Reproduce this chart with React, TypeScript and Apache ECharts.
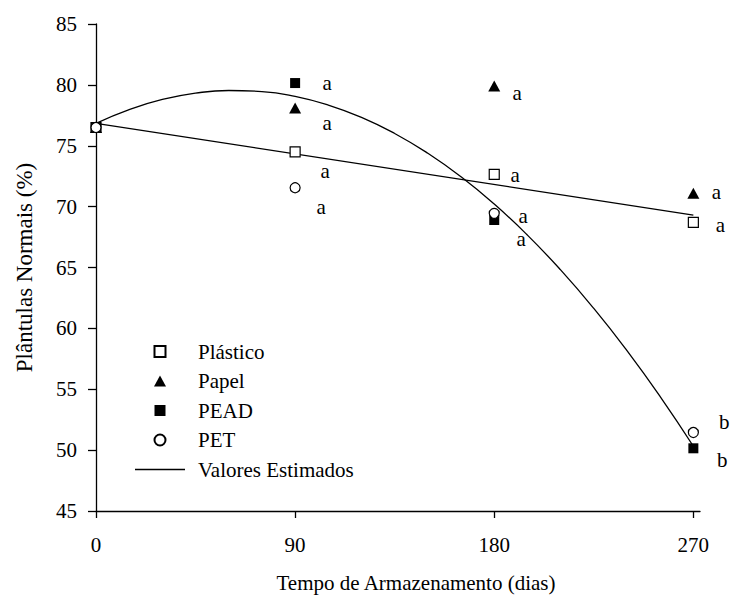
import React, { useEffect, useRef } from "react";
import * as echarts from "echarts";

const days = [0, 90, 180, 270];
const plastico = [76.5, 74.5, 72.65, 68.7];
const papel = [76.5, 78.1, 79.9, 71.1];
const pead = [76.5, 80.15, 68.9, 50.15];
const pet = [76.5, 71.55, 69.45, 51.45];

const plasticoLetters = ["", "a", "a", "a"];
const papelLetters = ["", "a", "a", "a"];
const peadLetters = ["", "a", "a", "b"];
const petLetters = ["", "a", "a", "b"];

// estimated linear fit
const linearDays = [0, 270];
const linearValues = [76.84, 69.31];

// estimated quadratic curve
const curveDays = [0, 15, 30, 45, 60, 75, 90, 105, 120, 135, 150, 165, 180, 195, 210, 225, 240, 255, 270];
const curveValues = [76.84, 77.97, 78.8, 79.32, 79.54, 79.45, 79.05, 78.34, 77.33, 76.01, 74.38, 72.45, 70.21, 67.66, 64.8, 61.64, 58.17, 54.4, 50.32];

const xTicks = [0, 90, 180, 270];

// label offsets (px) relative to each marker
const plasticoOffsets = [[0, 0], [30, 19], [21, 1], [27, 3]];
const papelOffsets = [[0, 0], [32, 15], [23, 7], [23, -1]];
const peadOffsets = [[0, 0], [32, 0], [27, 19], [29, 12]];
const petOffsets = [[0, 0], [26, 19], [29, 3], [31, -10]];

const FONT = "'Liberation Serif', 'Times New Roman', Times, serif";

const ICON_SQUARE = "path://M0,0L10,0L10,10L0,10Z";
const ICON_TRIANGLE = "path://M6,0L12,11L0,11Z";
const ICON_CIRCLE = "path://M0,5A5,5 0 1 1 10,5A5,5 0 1 1 0,5Z";
const ICON_LINE = "path://M0,0L50,0L50,1.3L0,1.3Z";

function pts(values: number[], letters: string[], offsets: number[][]) {
  return days.map((d, i) => ({
    value: [d, values[i]],
    label: {
      show: letters[i] !== "",
      formatter: letters[i],
      position: "inside",
      offset: offsets[i],
      color: "#000",
      fontFamily: FONT,
      fontSize: 21,
    },
  }));
}

export default function App() {
  const ref = useRef<HTMLDivElement>(null);
  useEffect(() => {
    if (!ref.current) return;
    document.body.style.margin = "0";
    const chart = echarts.init(ref.current, null, { renderer: "svg" });
    const lineStyle = { color: "#000", width: 1.3 };
    chart.setOption({
      animation: false,
      backgroundColor: "#fff",
      textStyle: { fontFamily: FONT },
      grid: { left: 96, top: 24, right: 48, bottom: 90, containLabel: false, outerBoundsMode: "none" },
      legend: {
        orient: "vertical",
        left: 135,
        top: 341,
        padding: 0,
        itemWidth: 50,
        itemHeight: 11,
        itemGap: 8.5,
        symbolKeepAspect: true,
        textStyle: { fontFamily: FONT, fontSize: 21, color: "#000", padding: [0, 0, 0, 8], lineHeight: 20 },
        data: [
          { name: "Plástico", icon: ICON_SQUARE },
          { name: "Papel", icon: ICON_TRIANGLE },
          { name: "PEAD", icon: ICON_SQUARE },
          { name: "PET", icon: ICON_CIRCLE },
          { name: "Valores Estimados", icon: ICON_LINE },
        ],
      },
      xAxis: {
        type: "value",
        min: 0,
        max: 273,
        interval: 90,
        name: "Tempo de Armazenamento (dias)",
        nameLocation: "middle",
        nameGap: 61,
        nameTextStyle: { fontFamily: FONT, fontSize: 21, color: "#000", padding: [0, 0, 0, 36] },
        axisLine: { show: true, lineStyle: { color: "#000", width: 1.3 } },
        axisTick: { show: true, inside: false, length: 7, customValues: xTicks, lineStyle: { color: "#000", width: 1.3 } },
        axisLabel: { customValues: xTicks, margin: 23, fontFamily: FONT, fontSize: 21, color: "#000" },
        splitLine: { show: false },
      },
      yAxis: {
        type: "value",
        min: 45,
        max: 85,
        interval: 5,
        name: "Plântulas Normais (%)",
        nameLocation: "middle",
        nameGap: 60,
        nameRotate: 90,
        nameTextStyle: { fontFamily: FONT, fontSize: 23, color: "#000" },
        axisLine: { show: true, lineStyle: { color: "#000", width: 1.3 } },
        axisTick: { show: true, inside: false, length: 8, lineStyle: { color: "#000", width: 1.3 } },
        axisLabel: { margin: 19, fontFamily: FONT, fontSize: 21, color: "#000" },
        splitLine: { show: false },
      },
      series: [
        {
          name: "Valores Estimados",
          type: "line",
          data: curveDays.map((d, i) => [d, curveValues[i]]),
          smooth: true,
          symbol: "none",
          lineStyle,
          itemStyle: { color: "#000" },
          z: 1,
        },
        {
          name: "Valores Estimados",
          type: "line",
          data: linearDays.map((d, i) => [d, linearValues[i]]),
          symbol: "none",
          lineStyle,
          itemStyle: { color: "#000" },
          z: 1,
        },
        {
          name: "Plástico",
          type: "scatter",
          symbol: "rect",
          symbolSize: 10,
          itemStyle: { color: "#fff", borderColor: "#000", borderWidth: 1.2, opacity: 1 },
          data: pts(plastico, plasticoLetters, plasticoOffsets),
          z: 3,
        },
        {
          name: "Papel",
          type: "scatter",
          symbol: "triangle",
          symbolSize: [12, 11],
          itemStyle: { color: "#000", opacity: 1 },
          data: pts(papel, papelLetters, papelOffsets),
          z: 3,
        },
        {
          name: "PEAD",
          type: "scatter",
          symbol: "rect",
          symbolSize: 10,
          itemStyle: { color: "#000", opacity: 1 },
          data: pts(pead, peadLetters, peadOffsets),
          z: 3,
        },
        {
          name: "PET",
          type: "scatter",
          symbol: "circle",
          symbolSize: 10,
          itemStyle: { color: "#fff", borderColor: "#000", borderWidth: 1.2, opacity: 1 },
          data: pts(pet, petLetters, petOffsets),
          z: 4,
        },
      ],
    });
    return () => chart.dispose();
  }, []);
  return <div ref={ref} style={{ position: "absolute", left: 0, top: 0, width: 748, height: 601 }} />;
}
